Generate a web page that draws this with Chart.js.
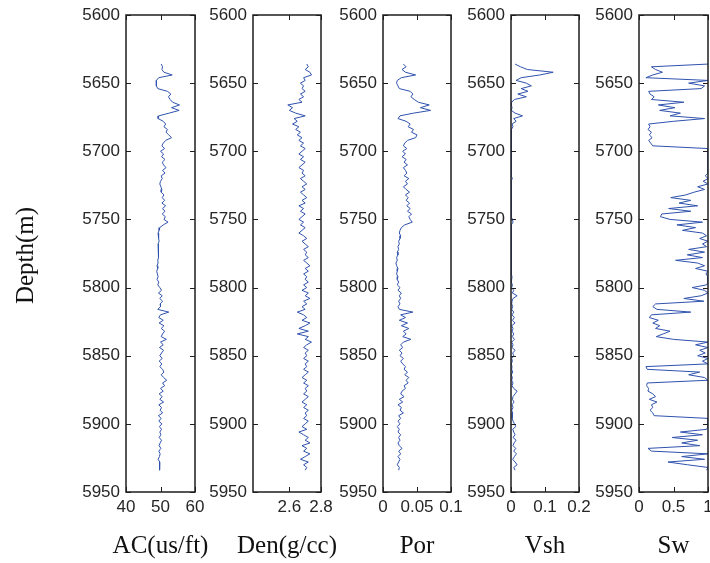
<!DOCTYPE html>
<html><head><meta charset="utf-8">
<script src="https://cdn.jsdelivr.net/npm/chart.js@4/dist/chart.umd.min.js"></script>
<style>
html,body{margin:0;padding:0;background:#fff;}
#wrap{position:relative;width:710px;height:563px;overflow:hidden;background:#fff;}
#wrap canvas{position:absolute;left:0;top:0;}
</style></head><body><div id="wrap"></div>
<script>
// ---- depth samples (m) ----
const DEPTH = [
5636,5638,5640,5642,5644,5646,5648,5650,5652,5654,
5656,5658,5660,5662,5664,5666,5668,5670,5672,5674,
5676,5678,5680,5682,5684,5686,5688,5690,5692,5694,
5696,5698,5700,5702,5704,5706,5708,5710,5712,5714,
5716,5718,5720,5722,5724,5726,5728,5730,5732,5734,
5736,5738,5740,5742,5744,5746,5748,5750,5752,5754,
5756,5758,5760,5762,5764,5766,5768,5770,5772,5774,
5776,5778,5780,5782,5784,5786,5788,5790,5792,5794,
5796,5798,5800,5802,5804,5806,5808,5810,5812,5814,
5816,5818,5820,5822,5824,5826,5828,5830,5832,5834,
5836,5838,5840,5842,5844,5846,5848,5850,5852,5854,
5856,5858,5860,5862,5864,5866,5868,5870,5872,5874,
5876,5878,5880,5882,5884,5886,5888,5890,5892,5894,
5896,5898,5900,5902,5904,5906,5908,5910,5912,5914,
5916,5918,5920,5922,5924,5926,5928,5930,5932,5934];

const AC = [
50.2,50.6,50.4,51.0,53.4,49.5,48.8,48.7,48.9,49.2,
52.0,53.0,52.3,52.8,53.5,55.5,53.2,55.4,52.5,49.5,
49.3,50.8,51.5,51.0,52.0,51.6,52.4,53.2,51.5,50.8,
50.4,51.2,50.0,50.9,50.3,51.3,50.5,50.9,51.6,50.6,
51.3,50.2,50.5,50.0,49.8,50.1,50.4,50.2,51.0,50.5,
51.2,50.4,51.5,50.6,51.3,50.5,51.4,51.0,52.2,50.8,
49.8,49.6,49.3,49.5,49.4,49.6,49.3,49.5,49.4,49.3,
49.5,49.4,49.2,49.3,49.0,49.2,48.9,49.1,49.3,49.0,
49.5,49.2,49.8,50.3,49.4,50.5,49.8,50.6,49.9,50.0,
49.2,52.4,50.0,49.5,50.8,49.6,51.0,50.2,51.2,50.6,
50.2,51.7,50.0,50.8,49.7,50.9,50.3,49.8,50.5,49.6,
50.4,49.8,50.6,51.0,50.2,50.9,51.8,50.6,51.2,50.0,
50.8,49.6,50.5,49.8,50.9,49.5,50.3,49.9,50.6,49.4,
50.2,49.5,50.4,49.7,50.3,49.8,50.1,49.6,50.3,49.9,
49.6,50.1,49.5,49.9,49.7,49.3,49.8,49.6,49.8,49.8];

const DEN = [
2.71,2.72,2.70,2.73,2.74,2.69,2.70,2.67,2.69,2.68,
2.70,2.67,2.69,2.66,2.68,2.59,2.62,2.60,2.64,2.70,
2.63,2.65,2.62,2.66,2.64,2.67,2.65,2.68,2.66,2.69,
2.67,2.70,2.68,2.66,2.69,2.67,2.70,2.68,2.66,2.69,
2.68,2.70,2.67,2.69,2.71,2.68,2.70,2.67,2.69,2.71,
2.68,2.70,2.66,2.69,2.67,2.70,2.68,2.66,2.69,2.67,
2.70,2.68,2.66,2.69,2.71,2.68,2.70,2.72,2.69,2.71,
2.70,2.72,2.69,2.71,2.73,2.70,2.72,2.69,2.71,2.70,
2.72,2.69,2.71,2.68,2.72,2.70,2.73,2.69,2.71,2.68,
2.70,2.65,2.69,2.71,2.68,2.73,2.70,2.66,2.72,2.65,
2.72,2.70,2.74,2.71,2.69,2.72,2.70,2.71,2.69,2.72,
2.70,2.71,2.69,2.72,2.70,2.68,2.71,2.69,2.72,2.70,
2.71,2.69,2.72,2.70,2.68,2.71,2.69,2.72,2.70,2.71,
2.69,2.72,2.70,2.68,2.71,2.66,2.69,2.72,2.70,2.73,
2.68,2.71,2.69,2.73,2.70,2.67,2.72,2.69,2.71,2.70];

const POR = [
0.030,0.034,0.028,0.033,0.048,0.027,0.021,0.020,0.022,0.024,
0.040,0.044,0.041,0.046,0.052,0.068,0.055,0.070,0.045,0.025,
0.022,0.034,0.040,0.037,0.045,0.042,0.050,0.048,0.036,0.032,
0.030,0.035,0.029,0.033,0.028,0.034,0.031,0.036,0.030,0.033,
0.035,0.031,0.038,0.033,0.036,0.030,0.034,0.039,0.033,0.037,
0.034,0.039,0.035,0.040,0.036,0.042,0.038,0.040,0.043,0.032,
0.027,0.025,0.024,0.026,0.025,0.023,0.024,0.022,0.023,0.021,
0.022,0.020,0.021,0.019,0.020,0.022,0.021,0.020,0.022,0.021,
0.023,0.021,0.025,0.022,0.027,0.024,0.026,0.023,0.025,0.022,
0.024,0.044,0.026,0.033,0.024,0.036,0.027,0.038,0.030,0.034,
0.029,0.041,0.030,0.026,0.029,0.024,0.028,0.025,0.030,0.026,
0.029,0.033,0.031,0.036,0.032,0.038,0.034,0.037,0.031,0.033,
0.028,0.026,0.031,0.024,0.029,0.022,0.027,0.025,0.030,0.023,
0.026,0.022,0.025,0.021,0.024,0.022,0.026,0.023,0.025,0.022,
0.024,0.028,0.023,0.026,0.022,0.025,0.023,0.021,0.024,0.023];

const VSH = [
0.012,0.028,0.048,0.124,0.085,0.030,0.015,0.045,0.060,0.030,
0.050,0.020,0.045,0.010,0.002,0.001,0.003,0.001,0.012,0.034,
0.008,0.015,0.003,0.006,0.001,0.000,0.002,0.000,0.001,0.000,
0.001,0.000,0.000,0.001,0.000,0.000,0.001,0.000,0.000,0.000,
0.000,0.001,0.004,0.000,0.000,0.001,0.000,0.000,0.002,0.000,
0.000,0.001,0.000,0.000,0.002,0.001,0.000,0.004,0.006,0.001,
0.000,0.002,0.000,0.001,0.000,0.000,0.001,0.000,0.000,0.001,
0.000,0.000,0.001,0.000,0.000,0.002,0.000,0.001,0.003,0.002,
0.001,0.004,0.002,0.008,0.004,0.018,0.006,0.003,0.002,0.005,
0.002,0.008,0.003,0.010,0.004,0.012,0.002,0.006,0.003,0.008,
0.004,0.010,0.002,0.006,0.003,0.012,0.005,0.008,0.002,0.004,
0.001,0.003,0.002,0.005,0.001,0.004,0.002,0.006,0.003,0.008,
0.018,0.012,0.006,0.004,0.009,0.003,0.006,0.002,0.005,0.004,
0.003,0.006,0.010,0.014,0.005,0.008,0.012,0.006,0.015,0.009,
0.006,0.014,0.008,0.016,0.010,0.005,0.012,0.018,0.008,0.012];

const SW = [
1.00,0.18,0.24,0.34,0.20,0.10,1.00,0.72,0.95,0.90,
0.14,0.16,0.22,0.18,0.65,0.28,0.52,0.30,0.60,0.45,
0.95,0.50,0.14,0.16,0.13,0.18,0.15,0.19,0.14,0.17,
0.20,1.00,1.00,1.00,1.00,1.00,1.00,1.00,1.00,1.00,
1.00,0.96,1.00,0.93,1.00,0.85,0.95,0.80,0.68,0.46,
0.75,0.58,0.85,0.43,0.75,0.33,0.31,0.45,0.92,0.55,
0.82,0.63,0.92,0.98,0.88,1.00,0.92,0.98,0.72,0.95,
0.70,0.92,0.53,0.85,0.95,0.82,1.00,0.97,1.00,1.00,
1.00,0.98,0.77,0.95,1.00,0.90,0.65,0.94,0.24,0.20,
0.26,0.75,0.18,0.15,0.28,0.20,0.30,0.24,0.45,0.35,
0.25,0.50,1.00,0.82,1.00,0.88,0.96,0.85,1.00,0.92,
1.00,0.10,0.12,0.88,0.72,0.95,1.00,0.12,0.11,0.14,
0.13,0.20,0.24,0.15,0.26,0.18,0.20,0.16,0.20,0.22,
1.00,1.00,1.00,1.00,0.98,0.60,0.92,0.48,0.85,0.62,
0.88,0.13,0.18,1.00,0.62,0.95,0.42,0.70,1.00,0.98];

// ---- tick labels / titles ----
const DEPTH_TICKS = [5600,5650,5700,5750,5800,5850,5900,5950];
const AC_TICKS  = [40,50,60];
const DEN_TICKS = [2.6,2.8];
const POR_TICKS = [0,0.05,0.1];
const VSH_TICKS = [0,0.1,0.2];
const SW_TICKS  = [0,0.5,1];
const TRACK_TITLES = ['AC(us/ft)','Den(g/cc)','Por','Vsh','Sw'];
const DEPTH_TITLE = 'Depth(m)';

// ---- layout / style ----
const W = 710, H = 563, TOP = 15, BOTTOM = 492;
const LINE = '#2f52ad', AXIS = '#1e1e1e', TXT = '#262626';
const SANS = '"Liberation Sans", Arial, sans-serif';
const SERIF = '"Liberation Serif", "Times New Roman", serif';
const TL = 5;

const panels = [
  {values: AC,  min: 40,   max: 60,  ticks: AC_TICKS,  title: TRACK_TITLES[0], area: [126, 195]},
  {values: DEN, min: 2.37, max: 2.8, ticks: DEN_TICKS, title: TRACK_TITLES[1], area: [253, 321]},
  {values: POR, min: 0,    max: 0.1, ticks: POR_TICKS, title: TRACK_TITLES[2], area: [383, 451]},
  {values: VSH, min: 0,    max: 0.2, ticks: VSH_TICKS, title: TRACK_TITLES[3], area: [511, 579]},
  {values: SW,  min: 0,    max: 1,   ticks: SW_TICKS,  title: TRACK_TITLES[4], area: [639, 708]}
];

const boxPlugin = {
  id: 'box',
  afterDraw(chart, args, opts) {
    const {ctx, chartArea: a, scales: {x, y}} = chart;
    ctx.save();
    ctx.strokeStyle = AXIS;
    ctx.lineWidth = 1.5;
    ctx.strokeRect(a.left, a.top, a.right - a.left, a.bottom - a.top);
    ctx.lineWidth = 1;
    ctx.beginPath();
    y.ticks.forEach(t => {
      const py = Math.round(y.getPixelForValue(t.value)) + 0.5;
      ctx.moveTo(a.left, py); ctx.lineTo(a.left + TL, py);
      ctx.moveTo(a.right, py); ctx.lineTo(a.right - TL, py);
    });
    x.ticks.forEach(t => {
      const px = Math.round(x.getPixelForValue(t.value)) + 0.5;
      ctx.moveTo(px, a.bottom); ctx.lineTo(px, a.bottom - TL);
      ctx.moveTo(px, a.top); ctx.lineTo(px, a.top + TL);
    });
    ctx.stroke();
    // axis titles
    ctx.fillStyle = '#111';
    ctx.font = '25px ' + SERIF;
    ctx.textAlign = 'center';
    ctx.textBaseline = 'alphabetic';
    ctx.fillText(opts.title, (a.left + a.right) / 2, 553);
    if (opts.depthTitle) {
      ctx.translate(33, (a.top + a.bottom) / 2 + 2);
      ctx.rotate(-Math.PI / 2);
      ctx.fillText(opts.depthTitle, 0, 0);
    }
    ctx.restore();
  }
};

const wrap = document.getElementById('wrap');

panels.forEach((p, i) => {
  const cv = document.createElement('canvas');
  cv.width = W; cv.height = H;
  cv.style.width = W + 'px'; cv.style.height = H + 'px';
  wrap.appendChild(cv);
  const pts = DEPTH.map((d, k) => ({x: p.values[k], y: d}));
  const pad = {left: p.area[0] - 44, right: W - p.area[1], top: TOP, bottom: 50};
  const chart = new Chart(cv, {
    type: 'scatter',
    data: {datasets: [{data: pts, showLine: true, borderColor: LINE, borderWidth: 1,
                       pointRadius: 0, pointHoverRadius: 0, fill: false, tension: 0}]},
    options: {
      responsive: false, animation: false, events: [], devicePixelRatio: 1,
      layout: {padding: Object.assign({}, pad)},
      plugins: {legend: {display: false}, tooltip: {enabled: false},
                box: {title: p.title, depthTitle: i === 0 ? DEPTH_TITLE : null}},
      scales: {
        x: {
          type: 'linear', position: 'bottom', min: p.min, max: p.max,
          afterBuildTicks: s => { s.ticks = p.ticks.map(v => ({value: v})); },
          afterFit: s => { s.paddingLeft = 0; s.paddingRight = 0; },
          grid: {display: false, drawTicks: false}, border: {display: false},
          ticks: {padding: 5, font: {family: SANS, size: 17}, color: TXT,
                  autoSkip: false, maxRotation: 0, callback: v => String(v)},
          title: {display: false}
        },
        y: {
          type: 'linear', position: 'left', reverse: true, min: 5600, max: 5950,
          afterBuildTicks: s => { s.ticks = DEPTH_TICKS.map(v => ({value: v})); },
          afterFit: s => { s.paddingTop = 0; s.paddingBottom = 0; },
          grid: {display: false, drawTicks: false}, border: {display: false},
          ticks: {padding: 6, font: {family: SANS, size: 17}, color: TXT,
                  autoSkip: false, callback: v => String(v)},
          title: {display: false}
        }
      }
    },
    plugins: [boxPlugin]
  });
  for (let it = 0; it < 4; it++) {
    const a = chart.chartArea;
    pad.left += p.area[0] - a.left;
    pad.right += a.right - p.area[1];
    pad.top += TOP - a.top;
    pad.bottom += a.bottom - BOTTOM;
    chart.config.options.layout.padding = Object.assign({}, pad);
    chart.update('none');
  }
});
</script></body></html>
